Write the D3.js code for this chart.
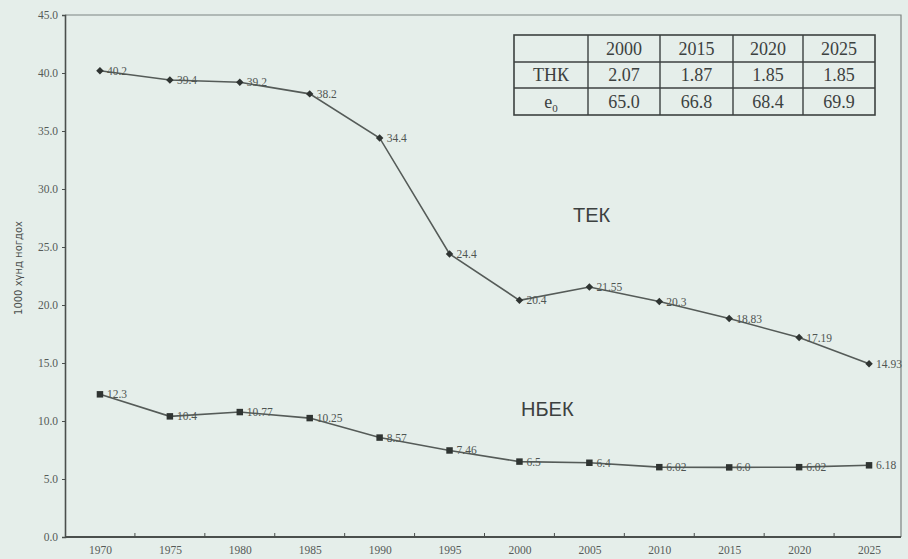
<!DOCTYPE html>
<html>
<head>
<meta charset="utf-8">
<script src="https://cdn.jsdelivr.net/npm/d3@7"></script>
<style>
	body { margin: 0; background: #e5eeea; }
	svg { display: block; }
</style>
</head>
<body>
<div id="chart"></div>
<script>
var years = [1970, 1975, 1980, 1985, 1990, 1995, 2000, 2005, 2010, 2015, 2020, 2025];
var tekValues = [40.2, 39.4, 39.2, 38.2, 34.4, 24.4, 20.4, 21.55, 20.3, 18.83, 17.19, 14.93];
var nbekValues = [12.3, 10.4, 10.77, 10.25, 8.57, 7.46, 6.5, 6.4, 6.02, 6.0, 6.02, 6.18];
var yTicks = [0, 5, 10, 15, 20, 25, 30, 35, 40, 45];

var tableHeader = ["", "2000", "2015", "2020", "2025"];
var tableThk = ["ТНК", "2.07", "1.87", "1.85", "1.85"];
var tableE0 = ["e0", "65.0", "66.8", "68.4", "69.9"];

var width = 908, height = 559;
var plotLeft = 65, plotRight = 904, plotTop = 15, plotBottom = 537;
var frameRight = 901;
var ink = "#4a4f4d";

var svg = d3.select("#chart").append("svg")
	.attr("width", width)
	.attr("height", height);

var x = d3.scalePoint().domain(years).range([plotLeft, plotRight]).padding(0.5);
var y = d3.scaleLinear().domain([0, 45]).range([plotBottom, plotTop]);

// frame top / right
svg.append("path")
	.attr("d", "M" + plotLeft + "," + plotTop + "H" + frameRight + "V" + plotBottom)
	.attr("fill", "none")
	.attr("stroke", "#7d8481")
	.attr("stroke-width", 1.2);

// y axis
var yAxis = svg.append("g")
	.attr("transform", "translate(" + plotLeft + ",0)")
	.call(d3.axisLeft(y).tickValues(yTicks).tickFormat(d3.format(".1f")).tickSize(3).tickPadding(4));
yAxis.select(".domain").attr("stroke", ink).attr("stroke-width", 1.6);
yAxis.selectAll(".tick line").attr("stroke", ink);
yAxis.selectAll("text")
	.attr("font-family", "Liberation Serif")
	.attr("font-size", 11.5)
	.attr("fill", "#555b58");

// x axis
var xAxis = svg.append("g")
	.attr("transform", "translate(0," + plotBottom + ")")
	.call(d3.axisBottom(x).tickSize(0).tickPadding(9));
xAxis.select(".domain").attr("d", "M" + plotLeft + ",0H" + frameRight).attr("stroke", ink).attr("stroke-width", 1.8);
xAxis.selectAll("text")
	.attr("font-family", "Liberation Serif")
	.attr("font-size", 11.5)
	.attr("fill", "#555b58");
// category separators
svg.append("g").selectAll("line")
	.data(years.slice(1))
	.join("line")
	.attr("x1", function(d) { return x(d) - x.step() / 2; })
	.attr("x2", function(d) { return x(d) - x.step() / 2; })
	.attr("y1", plotBottom)
	.attr("y2", plotBottom - 4)
	.attr("stroke", ink);

// y label
svg.append("text")
	.attr("transform", "translate(22," + ((plotTop + plotBottom) / 2 - 8) + ") rotate(-90)")
	.attr("text-anchor", "middle")
	.attr("font-family", "DejaVu Sans")
	.attr("font-size", 10)
	.attr("fill", "#4a4f4d")
	.text("1000 хүнд ногдох");

var line = d3.line()
	.x(function(d, i) { return x(years[i]); })
	.y(function(d) { return y(d); });

function labelText(d) { return d % 1 === 0 ? d.toFixed(1) : String(d); }

function drawSeries(values, rotate, size) {
	var g = svg.append("g");
	g.append("path")
		.datum(values)
		.attr("d", line)
		.attr("fill", "none")
		.attr("stroke", "#555b58")
		.attr("stroke-width", 1.6);
	g.selectAll("path.m")
		.data(values)
		.join("path")
		.attr("class", "m")
		.attr("transform", function(d, i) { return "translate(" + x(years[i]) + "," + y(d) + ") rotate(" + rotate + ")"; })
		.attr("d", d3.symbol().type(d3.symbolSquare).size(size))
		.attr("fill", "#2f3432");
	g.selectAll("text")
		.data(values)
		.join("text")
		.attr("x", function(d, i) { return x(years[i]) + 7; })
		.attr("y", function(d) { return y(d) + 4; })
		.attr("font-family", "Liberation Serif")
		.attr("font-size", 11.5)
		.attr("fill", "#4f5552")
		.text(labelText);
}
drawSeries(tekValues, 45, 28);
drawSeries(nbekValues, 0, 42);

// series names
svg.append("text")
	.attr("x", 573).attr("y", 222)
	.attr("font-family", "Liberation Sans")
	.attr("font-size", 20)
	.attr("fill", "#3c4140")
	.text("ТЕК");
svg.append("text")
	.attr("x", 521).attr("y", 416)
	.attr("font-family", "Liberation Sans")
	.attr("font-size", 20)
	.attr("fill", "#3c4140")
	.text("НБЕК");

// table
var colX = [514, 588, 660, 733, 803, 875];
var rowY = [35, 62, 88, 115];
var rows = [tableHeader, tableThk, tableE0];
var table = svg.append("g");
table.append("rect")
	.attr("x", colX[0]).attr("y", rowY[0])
	.attr("width", colX[5] - colX[0]).attr("height", rowY[3] - rowY[0])
	.attr("fill", "none").attr("stroke", "#3c4140").attr("stroke-width", 1.6);
colX.slice(1, 5).forEach(function(cx) {
	table.append("line").attr("x1", cx).attr("x2", cx).attr("y1", rowY[0]).attr("y2", rowY[3])
		.attr("stroke", "#3c4140").attr("stroke-width", 1.4);
});
rowY.slice(1, 3).forEach(function(ry) {
	table.append("line").attr("x1", colX[0]).attr("x2", colX[5]).attr("y1", ry).attr("y2", ry)
		.attr("stroke", "#3c4140").attr("stroke-width", 1.4);
});
rows.forEach(function(row, r) {
	row.forEach(function(cell, c) {
		if (!cell) return;
		var t = table.append("text")
			.attr("x", (colX[c] + colX[c + 1]) / 2)
			.attr("y", (rowY[r] + rowY[r + 1]) / 2 + 6)
			.attr("text-anchor", "middle")
			.attr("font-family", "Liberation Serif")
			.attr("font-size", 18)
			.attr("fill", "#3c4140");
		if (cell === "e0") {
			t.append("tspan").text("e");
			t.append("tspan").attr("font-size", 11).attr("dy", 4).text("0");
		} else {
			t.text(cell);
		}
	});
});
</script>
</body>
</html>
